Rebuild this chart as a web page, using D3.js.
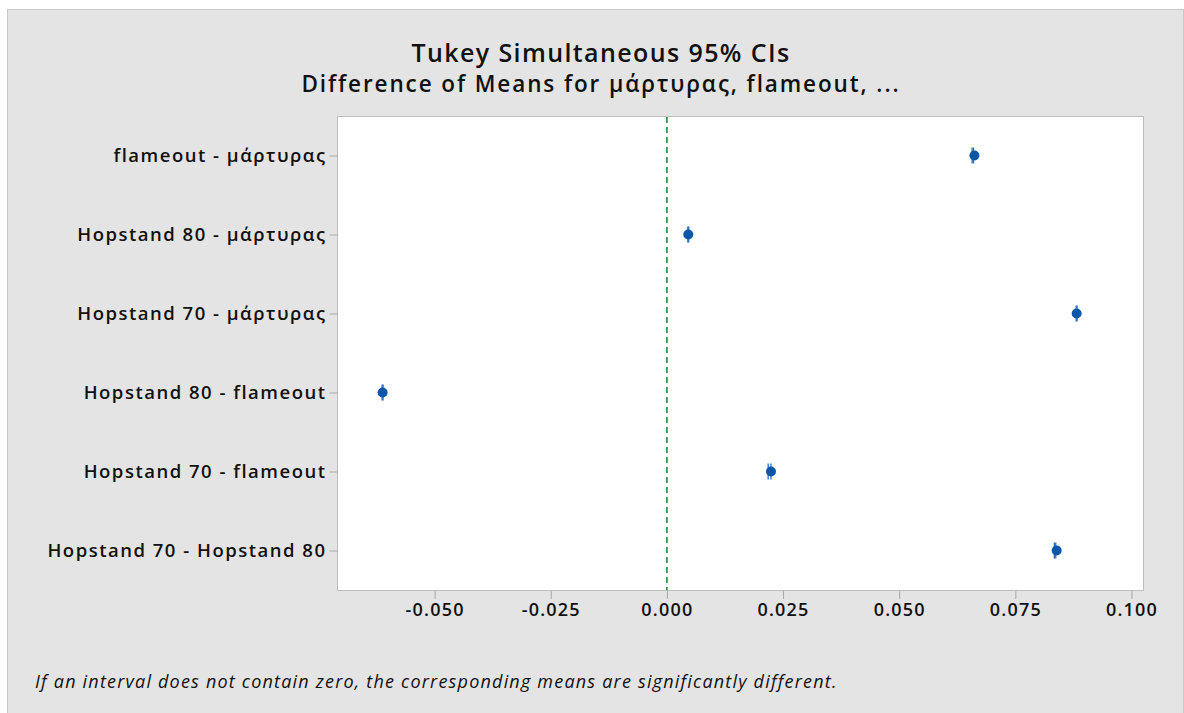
<!DOCTYPE html>
<html>
<head>
<meta charset="utf-8">
<script src="https://cdn.jsdelivr.net/npm/d3@7"></script>
<style>
  body { margin: 0; background: #fff; }
  svg text { font-family: "Open Sans", "Noto Sans", sans-serif; fill: #111; }
</style>
</head>
<body>
<div id="chart"></div>
<script>
// comparisons, top to bottom
var comparisons = [
  'flameout - μάρτυρας',
  'Hopstand 80 - μάρτυρας',
  'Hopstand 70 - μάρτυρας',
  'Hopstand 80 - flameout',
  'Hopstand 70 - flameout',
  'Hopstand 70 - Hopstand 80'
];
// difference of means and the CI ends
var diffs = [0.0662, 0.0046, 0.0882, -0.0612, 0.0224, 0.0839];
var lower = [0.0657, 0.0045, 0.0881, -0.0613, 0.0218, 0.0834];
var upper = [0.0660, 0.0047, 0.0883, -0.0611, 0.0224, 0.0837];
var xTicks = [-0.050, -0.025, 0.000, 0.025, 0.050, 0.075, 0.100];

var W = 1184, H = 713;
var plot = { left: 338, right: 1144, top: 116, bottom: 590 };

var svg = d3.select('#chart').append('svg')
  .attr('width', W).attr('height', H);

// grey panel
svg.append('rect')
  .attr('x', 7.5).attr('y', 9.5).attr('width', 1176).attr('height', 704)
  .attr('fill', '#e4e4e4').attr('stroke', '#c8c8c8');

// titles
svg.append('text')
  .attr('x', 601).attr('y', 62).attr('text-anchor', 'middle')
  .style('font-size', '25px').style('font-weight', 600)
  .style('letter-spacing', '1.4px')
  .text('Tukey Simultaneous 95% CIs');
svg.append('text')
  .attr('x', 601).attr('y', 92).attr('text-anchor', 'middle')
  .style('font-size', '22.5px').style('font-weight', 600)
  .style('letter-spacing', '1.9px')
  .text('Difference of Means for μάρτυρας, flameout, ...');

// plot area
svg.append('rect')
  .attr('x', plot.left - 0.5).attr('y', plot.top + 0.5)
  .attr('width', plot.right - plot.left).attr('height', plot.bottom - plot.top)
  .attr('fill', '#fff').attr('stroke', '#bdbdbd');

var x = d3.scaleLinear()
  .domain([-0.0708, 0.1027])
  .range([plot.left, plot.right]);
var y = d3.scalePoint()
  .domain(comparisons)
  .range([plot.top, plot.bottom])
  .padding(0.5);

// x axis
var xAxis = d3.axisBottom(x)
  .tickValues(xTicks)
  .tickSize(8)
  .tickPadding(4)
  .tickFormat(function(d) { return d3.format('.3f')(d).replace('−', '-'); });
svg.append('g')
  .attr('transform', 'translate(0,' + (plot.bottom + 1) + ')')
  .call(xAxis)
  .call(function(g) {
    g.select('.domain').remove();
    g.selectAll('.tick line').attr('stroke', '#a8a8a8');
    g.selectAll('.tick text')
      .style('font-size', '18px').style('font-weight', 600)
      .style('letter-spacing', '1.2px')
      .style('font-family', '"Open Sans", sans-serif').attr('fill', '#111');
  });

// y axis
var yAxis = d3.axisLeft(y).tickSize(8).tickPadding(3);
svg.append('g')
  .attr('transform', 'translate(' + (plot.left - 0.5) + ',0)')
  .call(yAxis)
  .call(function(g) {
    g.select('.domain').remove();
    g.selectAll('.tick line').attr('stroke', '#a8a8a8');
    g.selectAll('.tick text')
      .style('font-size', '18.5px').style('font-weight', 600)
      .style('letter-spacing', '1.5px')
      .style('font-family', '"Open Sans", sans-serif').attr('fill', '#111');
  });

// zero reference line
svg.append('line')
  .attr('x1', x(0)).attr('x2', x(0))
  .attr('y1', plot.top + 1).attr('y2', plot.bottom)
  .attr('stroke', '#1f8a3a').attr('stroke-width', 1.6)
  .attr('stroke-dasharray', '6,4');

// intervals
var rows = comparisons.map(function(c, i) {
  return { name: c, mean: diffs[i], lo: lower[i], hi: upper[i] };
});
var g = svg.append('g');
var ci = g.selectAll('g.ci').data(rows).enter().append('g').attr('class', 'ci');
ci.append('line')
  .attr('x1', function(d) { return x(d.lo); })
  .attr('x2', function(d) { return x(d.hi); })
  .attr('y1', function(d) { return y(d.name); })
  .attr('y2', function(d) { return y(d.name); })
  .attr('stroke', '#0a57aa').attr('stroke-width', 1.5);
[ 'lo', 'hi' ].forEach(function(k) {
  ci.append('line')
    .attr('x1', function(d) { return x(d[k]); })
    .attr('x2', function(d) { return x(d[k]); })
    .attr('y1', function(d) { return y(d.name) - 8; })
    .attr('y2', function(d) { return y(d.name) + 8; })
    .attr('stroke', '#2a6cc0').attr('stroke-width', 1.3);
});
ci.append('circle')
  .attr('cx', function(d) { return x(d.mean); })
  .attr('cy', function(d) { return y(d.name); })
  .attr('r', 5)
  .attr('fill', '#0a57aa');

// footnote
svg.append('text')
  .attr('x', 35).attr('y', 688)
  .style('font-size', '18px').style('font-style', 'italic')
  .style('letter-spacing', '1.2px')
  .text('If an interval does not contain zero, the corresponding means are significantly different.');
</script>
</body>
</html>
